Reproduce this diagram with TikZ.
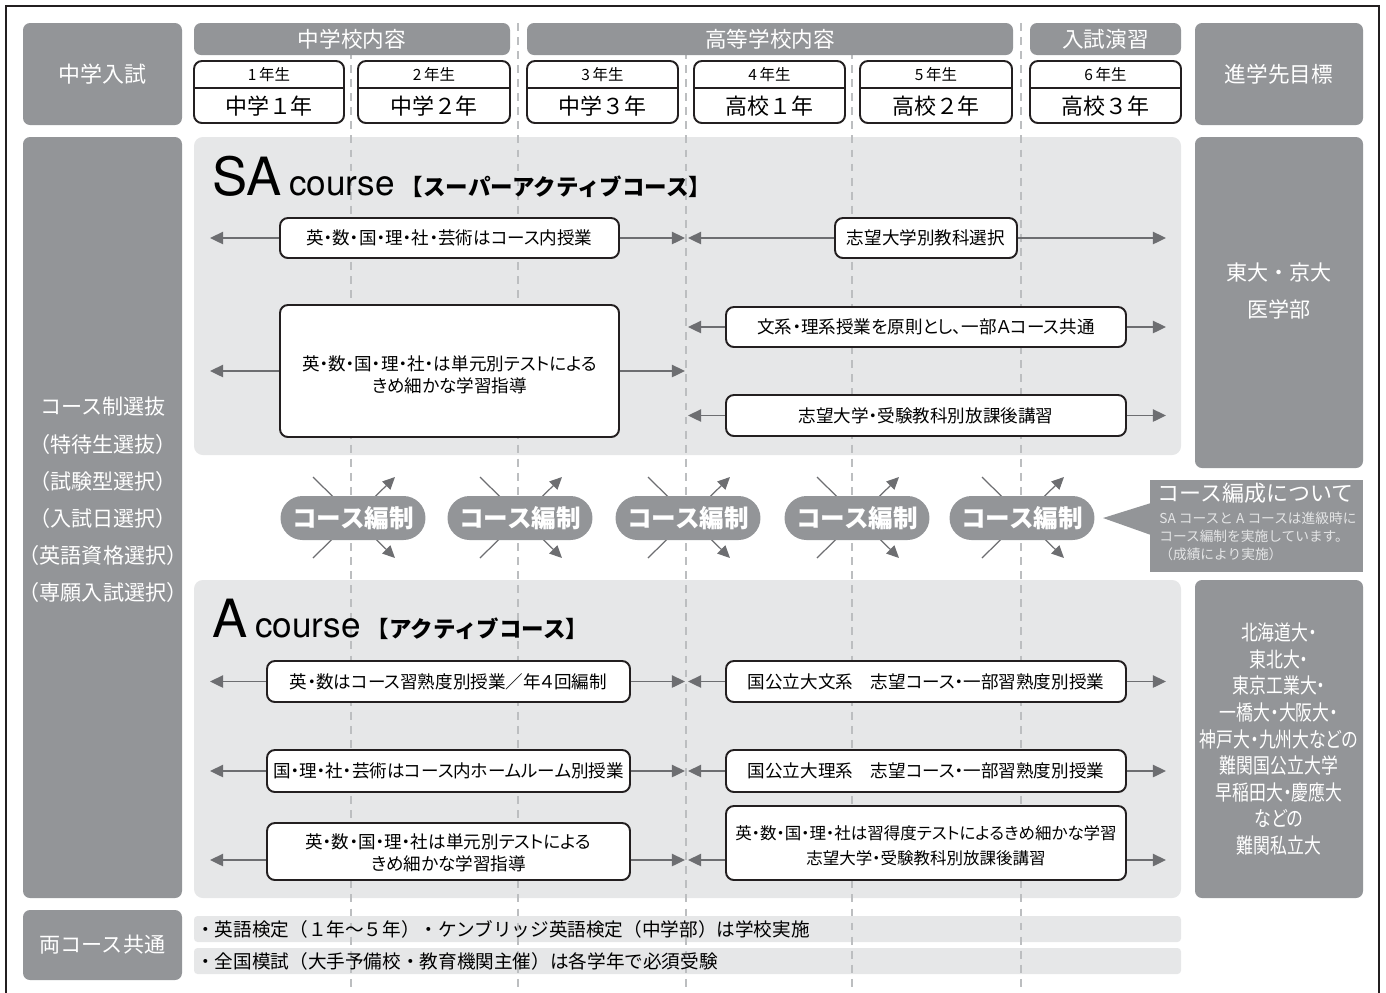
\documentclass[tikz,border=0pt]{standalone}
\usepackage{fontspec}
\setmainfont{Noto Sans CJK JP}
\newfontfamily\boxfont[RawFeature=+palt]{Noto Sans CJK JP}
\newfontfamily\condfont[FakeStretch=0.8,RawFeature=+palt]{Noto Sans CJK JP}
\newfontfamily\helvfont{TeX Gyre Heros}
\usepackage{tikz}
\usetikzlibrary{arrows.meta}
\usetikzlibrary{fit}
\usetikzlibrary{positioning}
\definecolor{boxgray}{RGB}{147,149,152}
\definecolor{panel}{RGB}{230,231,232}
\definecolor{arrgray}{RGB}{109,110,113}
\definecolor{sepgray}{RGB}{188,190,192}
\definecolor{ink}{RGB}{35,31,32}
\definecolor{notetext}{RGB}{228,229,230}
\newcommand{\setfs}[2]{\fontsize{#1}{#2}\selectfont}

\begin{document}
\begin{tikzpicture}[x=0.02cm, y=-0.02cm,
		grbox/.style={fill=boxgray, rounded corners=4pt, inner sep=0pt},
		grtxt/.style={text=white, align=center, inner sep=0pt},
		wbox/.style={draw=ink, fill=white, line width=1.1pt, rounded corners=4.5pt, inner sep=0pt},
		wtxt/.style={align=center, inner sep=0pt, font=\boxfont\setfs{10}{12.5}},
		arr/.style={draw=arrgray, line width=1.1pt, -{Triangle[length=7.5pt, width=7pt]}},
		crossarr/.style={draw=arrgray, line width=0.7pt, -{Triangle[length=7pt, width=6.5pt]}},
		yearsep/.style={draw=sepgray, line width=0.8pt, dash pattern=on 4.5pt off 3.5pt},
		pill/.style={fill=boxgray, rounded corners=0.44cm, minimum width=2.9cm, minimum height=0.88cm, inner sep=0pt, text=white, font=\bfseries\setfs{14}{14}},
		title/.style={inner sep=0pt, anchor=base west}
	]
		\useasboundingbox (0,0) rectangle (1386,992);
		\draw[ink, line width=1pt] (6,6) rectangle (1379,1030);

		\fill[panel, rounded corners=5pt] (194,137) rectangle (1181,455);
		\fill[panel, rounded corners=5pt] (194,580) rectangle (1181,898);
		\fill[panel, rounded corners=2pt] (194,916) rectangle (1181,942);
		\fill[panel, rounded corners=2pt] (194,948) rectangle (1181,974);
		\foreach \x in {351,518,686,852,1021}{
				\draw[yearsep] (\x,23) -- (\x,992);
		}

		\node[grbox, fit={(23,23)(182,125)}](entry){};
		\node[grtxt, font=\setfs{12.5}{12.5}](entrytxt) at (entry){中学入試};
		\node[grbox, fit={(23,137)(182,898)}](select){};
		\node[grtxt, font=\setfs{12}{21.2}](selecttxt) at (103,500){コース制選抜\\（特待生選抜）\\（試験型選択）\\（入試日選択）\\（英語資格選択）\\（専願入試選択）};
		\node[grbox, fit={(23,910)(182,980)}](both){};
		\node[grtxt, font=\setfs{12}{12}](bothtxt) at (both){両コース共通};

		\node[grbox, fit={(194,23)(510,55)}](jhs){};
		\node[grtxt, font=\setfs{12.3}{12.3}](jhstxt) at (jhs){中学校内容};
		\node[grbox, fit={(527,23)(1013,55)}](shs){};
		\node[grtxt, font=\setfs{12.3}{12.3}](shstxt) at (shs){高等学校内容};
		\node[grbox, fit={(1030,23)(1181,55)}](exam){};
		\node[grtxt, font=\setfs{12.3}{12.3}](examtxt) at (exam){入試演習};
		\foreach \xa/\xb/\n/\t in {
				194/344/1/中学１年,
				358/510/2/中学２年,
				527/678/3/中学３年,
				694/845/4/高校１年,
				860/1012/5/高校２年,
				1030/1181/6/高校３年
		}{
		\node[wbox, fit={(\xa,61)(\xb,123)}](yr\n){};
		\draw[ink, line width=1.1pt] (\xa,88) -- (\xb,88);
		\node[font=\setfs{8.8}{8.8}](yrg\n) at ({(\xa+\xb)/2},75){\n\,年生};
		\node[font=\setfs{12.5}{12.5}](yrn\n) at ({(\xa+\xb)/2},106){\t};
		}

		\node[grbox, fit={(1195,23)(1363,125)}](goal){};
		\node[grtxt, font=\setfs{12.3}{12.3}](goaltxt) at (goal){進学先目標};
		\node[grbox, fit={(1195,137)(1363,468)}](goalsa){};
		\node[grtxt, font=\setfs{12}{21}](goalsatxt) at (1279,291){東大・京大\\医学部};
		\node[grbox, fit={(1195,580)(1363,898)}](goala){};
		\node[grtxt, font=\condfont\setfs{12}{15.1}](goalatxt) at (1279,739){北海道大・\\東北大・\\東京工業大・\\一橋大・大阪大・\\神戸大・九州大などの\\難関国公立大学\\早稲田大・慶應大\\などの\\難関私立大};

		\node[title, font=\helvfont\setfs{30}{30}](satitle) at (212,195){SA};
		\node[title, base right=4pt of satitle, font=\helvfont\setfs{20}{20}](sacourse){course};
		\node[title, base right=3pt of sacourse, font=\bfseries\setfs{12.8}{12.8}](saname){【スーパーアクティブコース】};
		\node[title, font=\helvfont\setfs{30}{30}](atitle) at (212,637){A};
		\node[title, base right=4pt of atitle, font=\helvfont\setfs{20}{20}](acourse){course};
		\node[title, base right=3pt of acourse, font=\bfseries\setfs{12.8}{12.8}](aname){【アクティブコース】};

		\coordinate (lend) at (210,0);
		\coordinate (midl) at (685,0);
		\coordinate (midr) at (688,0);
		\coordinate (rend) at (1166,0);
		\coordinate (arow3) at (0,860);

		\node[wbox, fit={(280,218)(619,258)}](Lsa1){};
		\node[wtxt](Lsa1txt) at (Lsa1){英・数・国・理・社・芸術はコース内授業};
		\node[wbox, fit={(835,218)(1017,258)}](Rsa1){};
		\node[wtxt](Rsa1txt) at (Rsa1){志望大学別教科選択};
		\node[wbox, fit={(280,305)(619,437)}](Lsa2){};
		\node[wtxt](Lsa2txt) at ([yshift=-2pt]Lsa2.center){英・数・国・理・社・は単元別テストによる\\きめ細かな学習指導};
		\node[wbox, fit={(726,307)(1126,347)}](Rsa2){};
		\node[wtxt](Rsa2txt) at (Rsa2){文系・理系授業を原則とし、一部Ａコース共通};
		\node[wbox, fit={(726,395)(1126,436)}](Rsa3){};
		\node[wtxt](Rsa3txt) at (Rsa3){志望大学・受験教科別放課後講習};

		\node[wbox, fit={(267,661)(630,702)}](La1){};
		\node[wtxt](La1txt) at (La1){英・数はコース習熟度別授業／年４回編制};
		\node[wbox, fit={(726,661)(1126,702)}](Ra1){};
		\node[wtxt](Ra1txt) at (Ra1){国公立大文系　志望コース・一部習熟度別授業};
		\node[wbox, fit={(267,750)(630,792)}](La2){};
		\node[wtxt](La2txt) at (La2){国・理・社・芸術はコース内ホームルーム別授業};
		\node[wbox, fit={(726,750)(1126,792)}](Ra2){};
		\node[wtxt](Ra2txt) at (Ra2){国公立大理系　志望コース・一部習熟度別授業};
		\node[wbox, fit={(267,823)(630,880)}](La3){};
		\node[wtxt](La3txt) at ([yshift=-1pt]La3.center){英・数・国・理・社は単元別テストによる\\きめ細かな学習指導};
		\node[wbox, fit={(726,806)(1126,880)}](Ra3){};
		\node[wtxt, font=\boxfont\setfs{9.4}{14.6}](Ra3txt) at ([yshift=-1.5pt]Ra3.center){英・数・国・理・社は習得度テストによるきめ細かな学習\\志望大学・受験教科別放課後講習};

		\foreach \r in {sa1,a1,a2}{
				\draw[arr] (L\r.west) -- (L\r.west -| lend);
				\draw[arr] (L\r.east) -- (L\r.east -| midl);
				\draw[arr] (R\r.west) -- (R\r.west -| midr);
				\draw[arr] (R\r.east) -- (R\r.east -| rend);
		}
		\draw[arr] (Lsa2.west) -- (Lsa2.west -| lend);
		\draw[arr] (Lsa2.east) -- (Lsa2.east -| midl);
		\foreach \r in {Rsa2,Rsa3}{
				\draw[arr] (\r.west) -- (\r.west -| midr);
				\draw[arr] (\r.east) -- (\r.east -| rend);
		}
		\draw[arr] (La3.west |- arow3) -- (lend |- arow3);
		\draw[arr] (La3.east |- arow3) -- (midl |- arow3);
		\draw[arr] (Ra3.west |- arow3) -- (midr |- arow3);
		\draw[arr] (Ra3.east |- arow3) -- (rend |- arow3);

		\foreach \cx [count=\i] in {353,520,688,857,1022}{
				\draw[crossarr] (\cx-40,477) -- (\cx+42,558);
				\draw[crossarr] (\cx-40,558) -- (\cx+42,477);
				\node[pill](pill\i) at (\cx,518){コース編制};
		}

		\fill[boxgray] (1151,503) -- (1103,518) -- (1151,535) -- cycle;
		\node[fill=boxgray, fit={(1150,480)(1363,572)}, inner sep=0pt](note){};
		\node[anchor=north west, inner sep=0pt, text=white, font=\setfs{12.5}{12.5}](notetitle) at (1157,483){コース編成について};
		\node[anchor=north west, inner sep=0pt, text=notetext, align=left, font=\setfs{7.8}{10.2}](notebody) at (1159,512){SA コースと A コースは進級時に\\コース編制を実施しています。\\（成績により実施）};

		\node[anchor=west, inner sep=0pt, font=\setfs{10.6}{10.6}](bothA) at (196,929){・英語検定（１年～５年）・ケンブリッジ英語検定（中学部）は学校実施};
		\node[anchor=west, inner sep=0pt, font=\setfs{10.6}{10.6}](bothB) at (196,961){・全国模試（大手予備校・教育機関主催）は各学年で必須受験};
\end{tikzpicture}
\end{document}
